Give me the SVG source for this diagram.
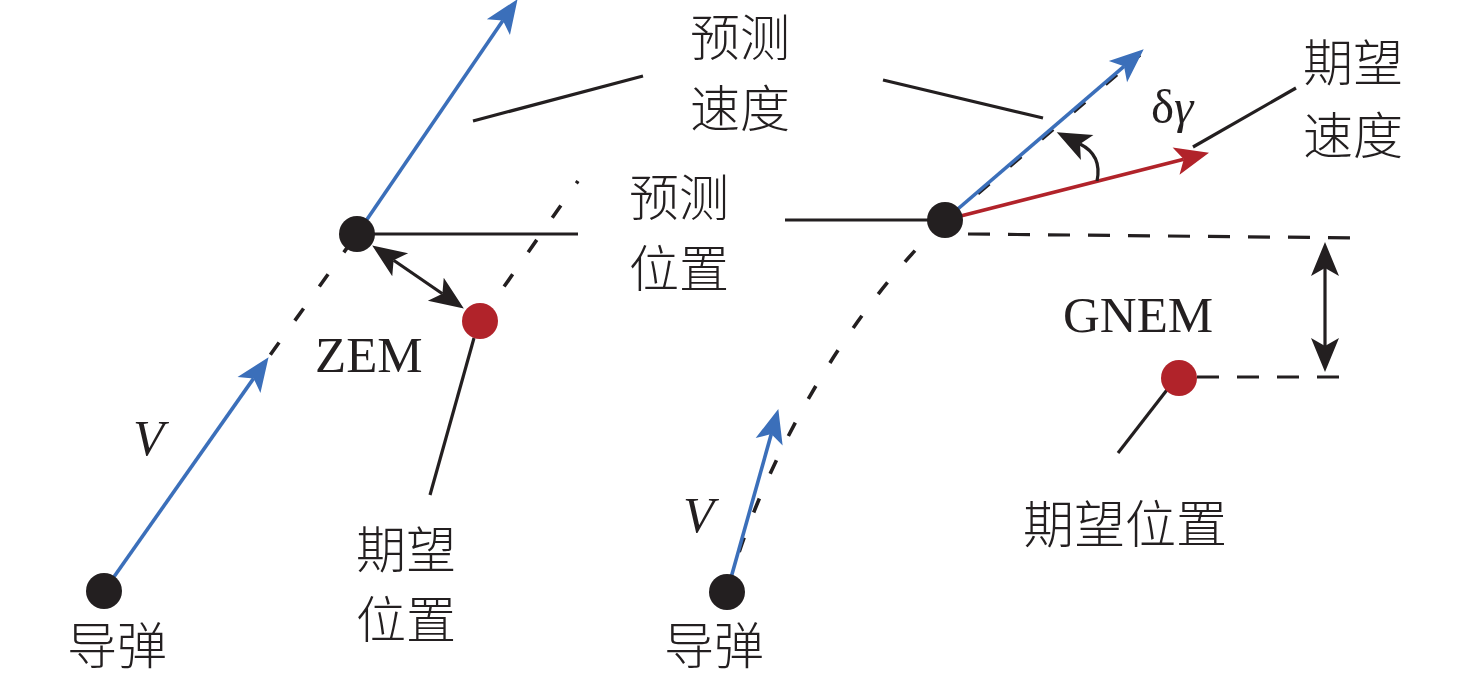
<svg xmlns="http://www.w3.org/2000/svg" width="1476" height="685" viewBox="0 0 1476 685">
<style>
.bg{fill:#ffffff}
.blue{stroke:#3b6fba;stroke-width:3.6;fill:none}
.red{stroke:#b1232a;stroke-width:3.6;fill:none}
.blk{stroke:#231f20;stroke-width:3.2;fill:none}
.dash{stroke:#231f20;stroke-width:3.6;fill:none;stroke-dasharray:15 27}
.hdash{stroke:#231f20;stroke-width:3.2;fill:none;stroke-dasharray:22 18}
.node{fill:#231f20}
.goal{fill:#b1232a}
.cjk{font-family:"Liberation Serif","Noto Sans CJK SC",serif;font-size:50px;font-weight:300;fill:#231f20}
.lat{font-family:"Liberation Serif",serif;font-size:51px;fill:#231f20}
.it{font-style:italic}
</style>
<defs>
<marker id="ahB" markerUnits="userSpaceOnUse" viewBox="-10 -16 38 32" refX="0" refY="0" markerWidth="38" markerHeight="32" orient="auto-start-reverse" overflow="visible">
<path d="M26,0 L-8,-14 L0,0 L-8,14 Z" fill="#3b6fba"/>
</marker>
<marker id="ahR" markerUnits="userSpaceOnUse" viewBox="-10 -16 38 32" refX="0" refY="0" markerWidth="38" markerHeight="32" orient="auto-start-reverse" overflow="visible">
<path d="M26,0 L-8,-14 L0,0 L-8,14 Z" fill="#b1232a"/>
</marker>
<marker id="ahK" markerUnits="userSpaceOnUse" viewBox="-10 -16 38 32" refX="0" refY="0" markerWidth="38" markerHeight="32" orient="auto-start-reverse" overflow="visible">
<path d="M26,0 L-8,-14 L0,0 L-8,14 Z" fill="#231f20"/>
</marker>
</defs>
<rect class="bg" x="0" y="0" width="1476" height="685"/>

<g id="connectors">
<!-- left diagram -->
<path class="dash" d="M268,358 L357,234" style="stroke-dashoffset:-4"/>
<path class="dash" d="M480,321 L578,181"/>
<path class="blue" d="M104,591 L253.6,378.4" marker-end="url(#ahB)"/>
<path class="blue" d="M357,234 L502.9,20.6" marker-end="url(#ahB)"/>
<path class="blk" d="M357,234 L578,234"/>
<path class="blk" d="M473,121 L643,76"/>
<path class="blk" d="M393.6,260.2 L442.4,293.8" marker-start="url(#ahK)" marker-end="url(#ahK)"/>
<path class="blk" d="M474,338 L430,495"/>
<!-- right diagram -->
<path class="dash" d="M727,592 C760,470 840,320 945,220"/>
<path class="dash" d="M946,221 L1140,55"/>
<path class="hdash" d="M968,234 L1366,238"/>
<path class="hdash" d="M1197,377 L1348,377"/>
<path class="blue" d="M727,592 L771.3,434.1" marker-end="url(#ahB)"/>
<path class="blue" d="M945,220 L1124,66.3" marker-end="url(#ahB)"/>
<path class="red" d="M945,220 L1183.8,159.2" marker-end="url(#ahR)"/>
<path class="blk" d="M1097,181 C1101,162 1094,151 1080,144" marker-end="url(#ahK)"/>
<path class="blk" d="M785,220 L940,220"/>
<path class="blk" d="M883,80 L1043,118"/>
<path class="blk" d="M1193,147 L1296,88"/>
<path class="blk" d="M1325,268 L1325,346" marker-start="url(#ahK)" marker-end="url(#ahK)"/>
<path class="blk" d="M1170,386 L1118,453"/>
</g>

<g id="missile-left"><circle class="node" cx="104" cy="591" r="18"/><text class="cjk" x="67" y="664">导弹</text></g>
<g id="predicted-left"><circle class="node" cx="357" cy="234" r="18"/></g>
<g id="goal-left"><circle class="goal" cx="480" cy="321" r="18"/><text class="cjk" x="356" y="568">期望</text><text class="cjk" x="356" y="638">位置</text></g>
<g id="label-pred-vel"><text class="cjk" x="690" y="56">预测</text><text class="cjk" x="690" y="127">速度</text></g>
<g id="label-pred-pos"><text class="cjk" x="629" y="216">预测</text><text class="cjk" x="629" y="287">位置</text></g>
<g id="label-zem"><text class="lat" x="315" y="372">ZEM</text></g>
<g id="label-v-left"><text class="lat it" x="133" y="455">V</text></g>

<g id="missile-right"><circle class="node" cx="727" cy="592" r="18"/><text class="cjk" x="664" y="664">导弹</text></g>
<g id="predicted-right"><circle class="node" cx="945" cy="220" r="18"/></g>
<g id="goal-right"><circle class="goal" cx="1179" cy="378" r="18"/><text class="cjk" x="1023" y="543" style="font-size:51px">期望位置</text></g>
<g id="label-des-vel"><text class="cjk" x="1303" y="81">期望</text><text class="cjk" x="1303" y="154">速度</text></g>
<g id="label-gnem"><text class="lat" x="1063" y="332">GNEM</text></g>
<g id="label-v-right"><text class="lat it" x="683" y="532">V</text></g>
<g id="label-dgamma"><text class="lat" x="1151" y="123" style="font-size:49px">δ<tspan class="it">γ</tspan></text></g>
</svg>
